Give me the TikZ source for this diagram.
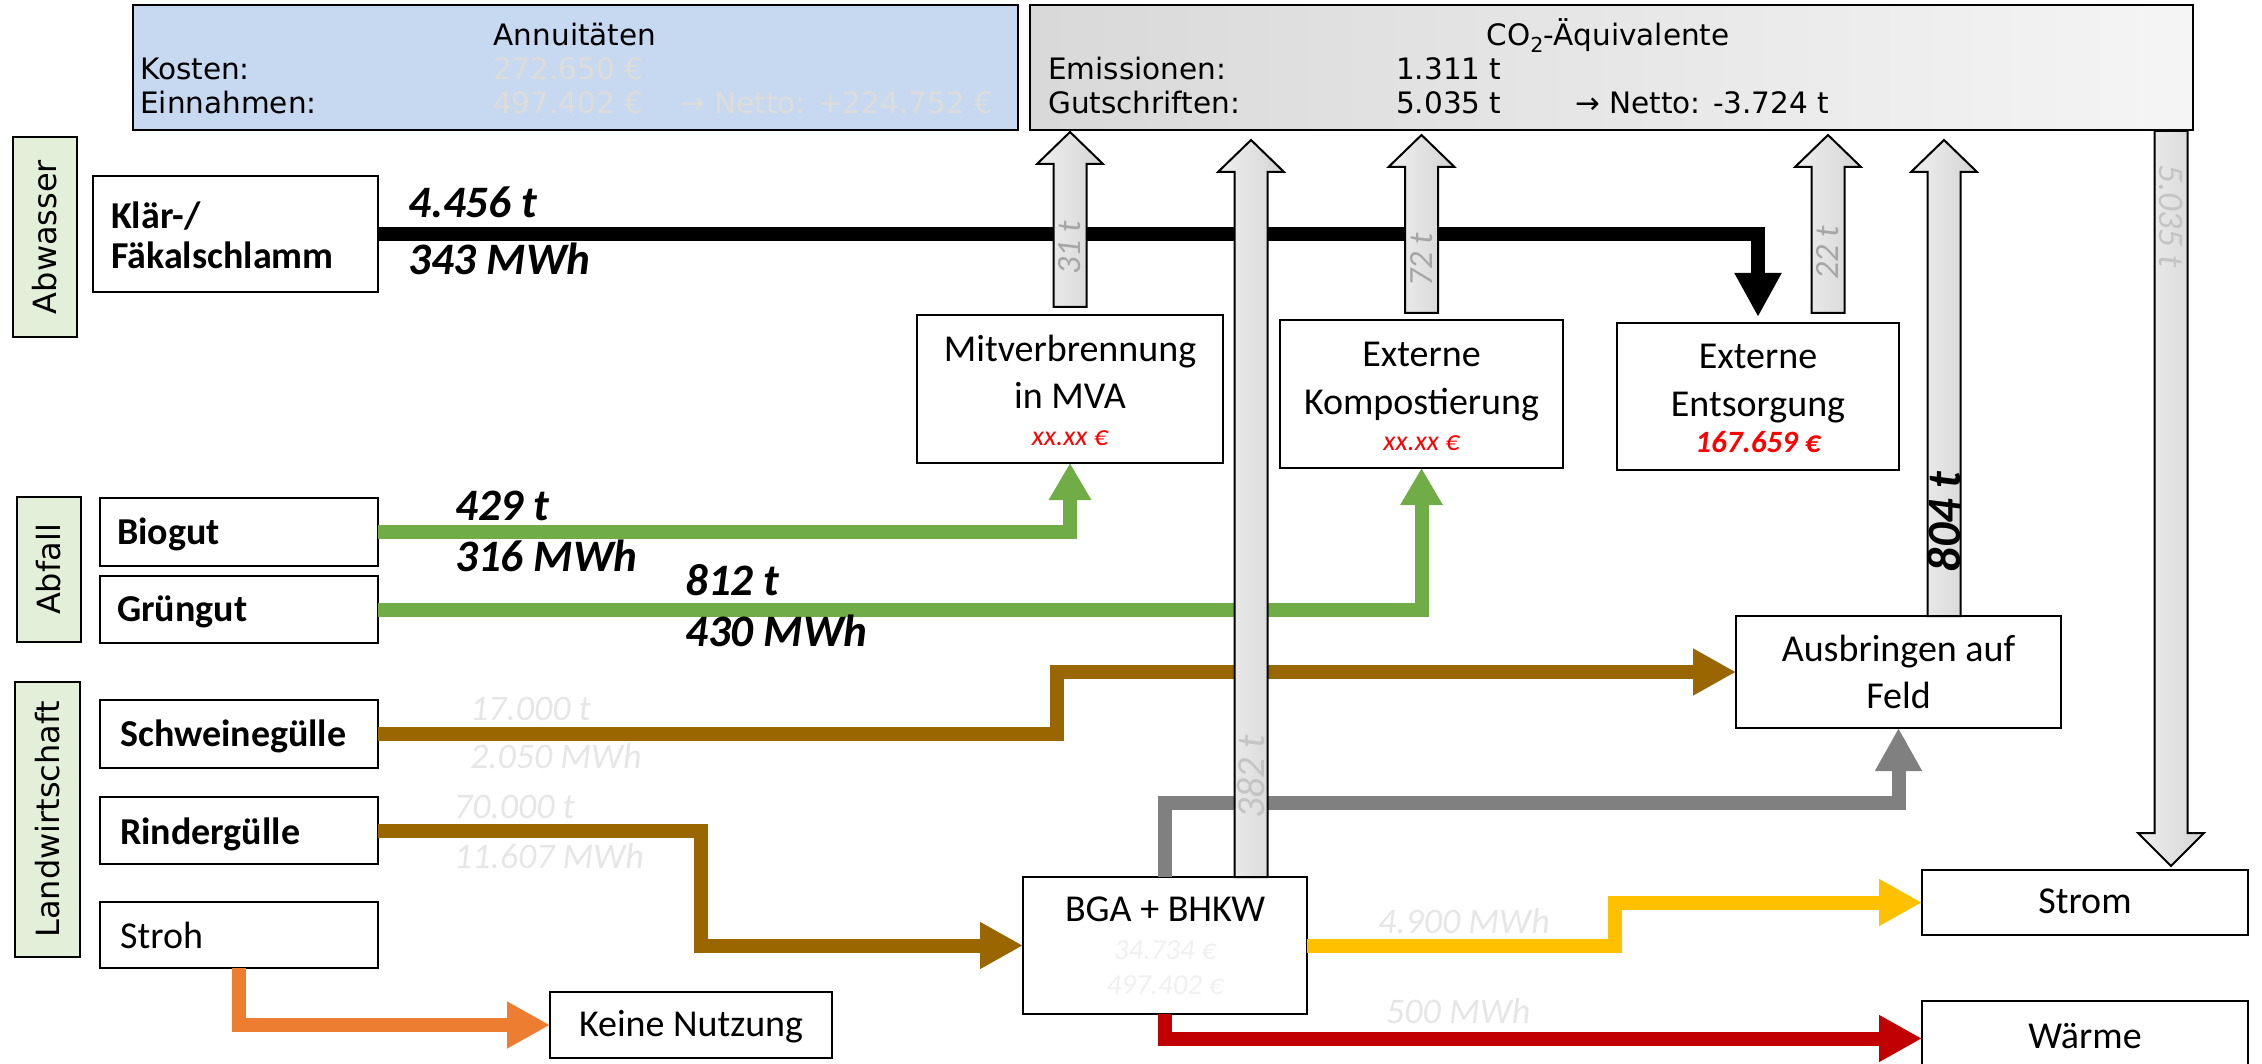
\documentclass[tikz,border=0pt]{standalone}
\usepackage{fontspec}
\setmainfont{Carlito}
\newfontfamily\dvs{DejaVu Sans}
\usetikzlibrary{arrows.meta}
\definecolor{annblue}{HTML}{C6D9F1}
\definecolor{catgreen}{HTML}{E4EFD9}
\definecolor{flowgreen}{HTML}{70AD47}
\definecolor{flowbrown}{HTML}{996600}
\definecolor{floworange}{HTML}{ED7D31}
\definecolor{flowgray}{HTML}{808080}
\definecolor{flowyellow}{HTML}{FFC000}
\definecolor{flowred}{HTML}{C00000}
\definecolor{faint}{HTML}{E6E6E6}
\definecolor{faintb}{HTML}{DEDCD8}
\definecolor{midgray}{HTML}{A6A6A6}
\definecolor{arrlabel}{HTML}{C4C4C4}
\definecolor{costred}{HTML}{FF0000}
\newcommand\fsz[1]{\fontsize{#1}{#1}\selectfont}
\newcommand\blkup[3]{%
  \shadedraw[blockarr] (#1-16.5,#2) -- (#1-16.5,#3+32) -- (#1-33,#3+32) -- (#1,#3)
    -- (#1+33,#3+32) -- (#1+16.5,#3+32) -- (#1+16.5,#2) -- cycle;}
\newcommand\blkdown[3]{%
  \shadedraw[blockarr] (#1-16.5,#2) -- (#1-16.5,#3-33) -- (#1-33,#3-33) -- (#1,#3)
    -- (#1+33,#3-33) -- (#1+16.5,#3-33) -- (#1+16.5,#2) -- cycle;}
\tikzset{
  box/.style={draw, line width=2.5pt, fill=white, inner sep=0pt, outer sep=0pt, anchor=north west},
  catbox/.style={box, fill=catgreen},
  lbl/.style={inner sep=0pt, anchor=base west},
  ctr/.style={inner sep=0pt, anchor=base},
  boxtxt/.style={ctr, font=\fsz{38}, yshift=-11.4pt},
  boldtxt/.style={lbl, font=\fsz{38}\bfseries, yshift=-11.4pt},
  flowtxt/.style={lbl, font=\fsz{45}\bfseries\itshape, yshift=-13.5pt},
  fainttxt/.style={lbl, font=\fsz{36}\itshape, text=faint, yshift=-10.8pt},
  hdr/.style={lbl, font=\dvs\fsz{29.5}, yshift=-8.9pt},
  hdrc/.style={ctr, font=\dvs\fsz{29.5}, yshift=-8.9pt},
  costtxt/.style={ctr, font=\fsz{28}\itshape, text=costred, yshift=-8.4pt},
  bgatxt/.style={ctr, font=\fsz{29}\itshape, text=faint!60, yshift=-8.7pt},
  cattxt/.style={inner sep=0pt, rotate=90, font=\dvs\fsz{32}},
  flow/.style={line width=14pt, line join=miter, -{Triangle[width=44pt,length=43pt]}},
  blackflow/.style={flow, draw=black, -{Triangle[width=44pt,length=44pt]}},
  greenflow/.style={flow, draw=flowgreen, -{Triangle[width=40pt,length=37pt]}},
  brownflow/.style={flow, draw=flowbrown},
  orangeflow/.style={flow, draw=floworange},
  grayflow/.style={flow, draw=flowgray},
  yellowflow/.style={flow, draw=flowyellow},
  redflow/.style={flow, draw=flowred},
  blockarr/.style={draw=black, line width=2pt, line join=miter, left color=gray!12, right color=gray!34},
  arrtxt/.style={inner sep=0pt, anchor=center, rotate=90, font=\fsz{34}\itshape, text=midgray}
}
\begin{document}
\begin{tikzpicture}[x=1pt, y=-1pt]
\useasboundingbox (0,0) rectangle (2262,1064);

% --- header boxes ---
\node[box, fill=annblue, minimum width=885, minimum height=125] (ann) at (133,5) {};
\node[box, left color=gray!30, right color=gray!8, minimum width=1163, minimum height=125] (co2) at (1030,5) {};

\node[hdrc] (anntitle) at (575,37) {Annuitäten};
\node[hdr] (kost) at (140,71) {Kosten:};
\node[hdr, text=faintb] (kostv) at (493,71) {272.650 €};
\node[hdr] (einn) at (140,105) {Einnahmen:};
\node[hdr, text=faintb] (einnv) at (493,105) {497.402 €};
\node[hdr, text=faintb] (annnet) at (680,105) {→ Netto: +224.752 €};

\node[hdrc] (co2title) at (1608,37) {CO\textsubscript{2}-Äquivalente};
\node[hdr] (emi) at (1048,71) {Emissionen:};
\node[hdr] (emiv) at (1396,71) {1.311 t};
\node[hdr] (gut) at (1048,105) {Gutschriften:};
\node[hdr] (gutv) at (1396,105) {5.035 t};
\node[hdr] (co2net) at (1575,105) {→ Netto: -3.724 t};

% --- category labels ---
\node[catbox, minimum width=64, minimum height=200] (abw) at (13,137) {};
\node[cattxt] (abwt) at (abw.center) {Abwasser};
\node[catbox, minimum width=64, minimum height=145] (abf) at (17,497) {};
\node[cattxt] (abft) at (abf.center) {Abfall};
\node[catbox, minimum width=65, minimum height=275] (lw) at (15,682) {};
\node[cattxt] (lwt) at (lw.center) {Landwirtschaft};

% --- source boxes ---
\node[box, minimum width=285, minimum height=116] (klar) at (93,176) {};
\node[boldtxt] (klart1) at (111,217) {Klär-/};
\node[boldtxt] (klart2) at (111,257) {Fäkalschlamm};
\node[box, minimum width=278, minimum height=68] (bio) at (100,498) {};
\node[boldtxt] (biot) at (117,533) {Biogut};
\node[box, minimum width=278, minimum height=67] (gruen) at (100,576) {};
\node[boldtxt] (gruent) at (117,610) {Grüngut};
\node[box, minimum width=278, minimum height=68] (schw) at (100,700) {};
\node[boldtxt] (schwt) at (120,735) {Schweinegülle};
\node[box, minimum width=278, minimum height=67] (rind) at (100,797) {};
\node[boldtxt] (rindt) at (120,833) {Rindergülle};
\node[box, minimum width=278, minimum height=66] (stroh) at (100,902) {};
\node[lbl, font=\fsz{38}, yshift=-11.4pt] (stroht) at (120,937) {Stroh};
\node[box, minimum width=282, minimum height=66] (keine) at (550,992) {};
\node[boxtxt] (keinet) at (691,1025) {Keine Nutzung};

% --- target boxes ---
\node[box, minimum width=306, minimum height=148] (mva) at (917,315) {};
\node[boxtxt] (mvat1) at (1070,350) {Mitverbrennung};
\node[boxtxt] (mvat2) at (1070,397) {in MVA};
\node[costtxt] (mvac) at (1070,437) {xx.xx €};

\node[box, minimum width=283, minimum height=148] (kompost) at (1280,320) {};
\node[boxtxt] (kompt1) at (1421.5,355) {Externe};
\node[boxtxt] (kompt2) at (1421.5,403) {Kompostierung};
\node[costtxt] (kompc) at (1421.5,442) {xx.xx €};

\node[box, minimum width=282, minimum height=147] (entsorg) at (1617,323) {};
\node[boxtxt] (entt1) at (1758,357) {Externe};
\node[boxtxt] (entt2) at (1758,405) {Entsorgung};
\node[costtxt, font=\fsz{31}\bfseries\itshape, yshift=-0.9pt] (entc) at (1758,443) {167.659 €};

\node[box, minimum width=325, minimum height=112] (ausbr) at (1736,616) {};
\node[boxtxt] (ausbrt1) at (1898.5,650) {Ausbringen auf};
\node[boxtxt] (ausbrt2) at (1898.5,697) {Feld};

\node[box, minimum width=284, minimum height=137] (bga) at (1023,877) {};
\node[boxtxt] (bgat) at (1165,910) {BGA + BHKW};
\node[bgatxt] (bgac1) at (1165,951) {34.734 €};
\node[bgatxt] (bgac2) at (1165,986) {497.402 €};

\node[box, minimum width=326, minimum height=65] (strom) at (1922,870) {};
\node[boxtxt] (stromt) at (2085,902) {Strom};
\node[box, minimum width=326, minimum height=75] (waerme) at (1922,1001) {};
\node[boxtxt] (waermet) at (2085,1037) {Wärme};

% --- flows ---
\draw[blackflow, shorten >=6pt] (klar.east) -| (entsorg.north);
\draw[greenflow] (bio.east) -| (mva.south);
\draw[greenflow] (gruen.east) -| (kompost.south);
\draw[brownflow] (schw.east) -- ++(679,0) |- (ausbr.west);
\draw[brownflow] (rind.east) -- ++(323,0) |- (bga.west);
\draw[orangeflow] (stroh.south) |- (keine.west);
\draw[grayflow] (bga.north) -- ++(0,-74) -| (ausbr.south);
\draw[yellowflow] (bga.east) -- ++(308,0) |- (strom.west);
\draw[redflow] (bga.south) |- (waerme.west);

% --- flow labels ---
\node[flowtxt] (l1a) at (408,204) {4.456 t};
\node[flowtxt] (l1b) at (408,261) {343 MWh};
\node[flowtxt] (l2a) at (455,507) {429 t};
\node[flowtxt] (l2b) at (455,558) {316 MWh};
\node[flowtxt] (l3a) at (685,582) {812 t};
\node[flowtxt] (l3b) at (685,633) {430 MWh};
\node[fainttxt] (l4a) at (470,710) {17.000 t};
\node[fainttxt] (l4b) at (470,758) {2.050 MWh};
\node[fainttxt] (l5a) at (454,808) {70.000 t};
\node[fainttxt] (l5b) at (454,858) {11.607 MWh};
\node[fainttxt] (l6) at (1378,923) {4.900 MWh};
\node[fainttxt] (l7) at (1386,1013) {500 MWh};

% --- CO2 block arrows ---
\blkup{1070}{307}{132}
\blkup{1251}{877}{140}
\blkup{1421.5}{313}{135}
\blkup{1828}{313}{135}
\blkup{1944}{616}{140}
\blkdown{2171}{131}{866}

\node[arrtxt] (a31) at (1070,248) {31 t};
\node[arrtxt] (a72) at (1421.5,260) {72 t};
\node[arrtxt] (a22) at (1828,253) {22 t};
\node[arrtxt, font=\fsz{40}\itshape, text=arrlabel] (a382) at (1251,777) {382 t};
\node[arrtxt, font=\fsz{48}\bfseries\itshape, text=black] (a804) at (1944,522) {804 t};
\node[arrtxt, rotate=180, font=\fsz{36}\itshape, text=arrlabel] (a5035) at (2171,216) {5.035 t};
\end{tikzpicture}
\end{document}
